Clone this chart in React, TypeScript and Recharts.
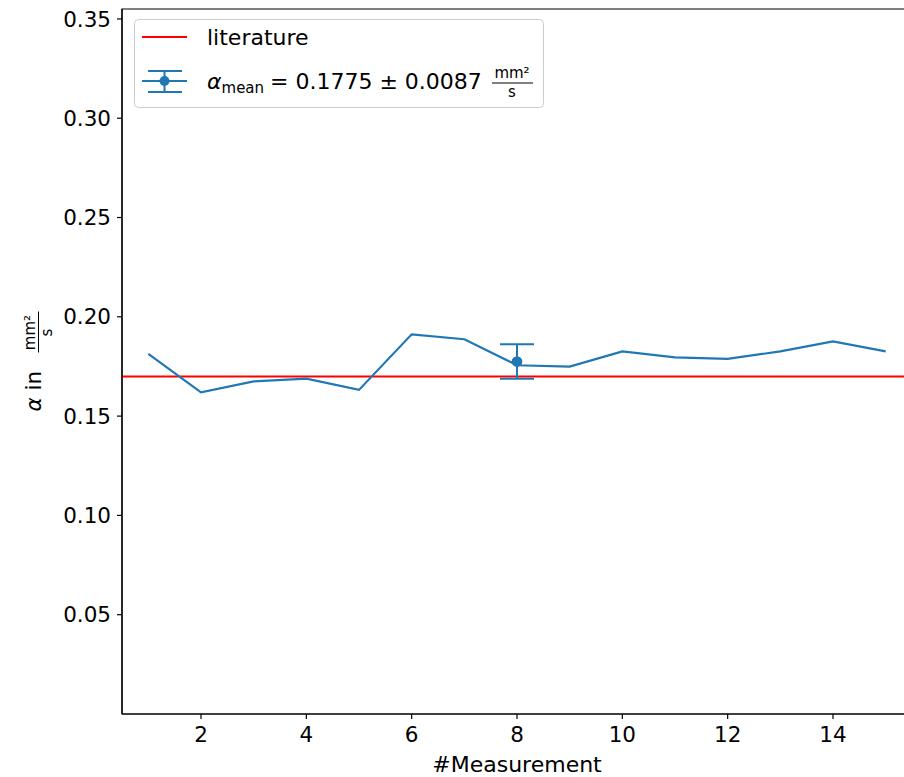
import {
  ComposedChart,
  Line,
  Scatter,
  ErrorBar,
  XAxis,
  YAxis,
  ZAxis,
  ReferenceLine,
  ReferenceArea,
  Legend,
} from "recharts";

const MEASUREMENTS = [1, 2, 3, 4, 5, 6, 7, 8, 9, 10, 11, 12, 13, 14, 15];
const ALPHA = [
  0.1813, 0.162, 0.1675, 0.1689, 0.1632, 0.1912, 0.1887, 0.1756, 0.1749, 0.1826,
  0.1796, 0.1788, 0.1826, 0.1876, 0.1826,
];
const LITERATURE = 0.17;
const MEAN_AT = 8;
const MEAN_VALUE = 0.1775;
const MEAN_ERROR = 0.0087;

const X_TICKS = [2, 4, 6, 8, 10, 12, 14];
const Y_TICKS = [0.05, 0.1, 0.15, 0.2, 0.25, 0.3, 0.35];

const BLUE = "#1f77b4";
const RED = "#ff0000";
const FONT = "DejaVu Sans";

const rows = MEASUREMENTS.map((n, i) => ({ n, alpha: ALPHA[i] }));
const meanRows = [{ n: MEAN_AT, alpha: MEAN_VALUE, err: MEAN_ERROR }];

const tickStyle = { fill: "#000", fontSize: 21.5, fontFamily: FONT };

function YLabel(props: any) {
  const vb = props.viewBox || { x: 52, y: 9, width: 70, height: 705 };
  const cx = vb.x - 11;
  const cy = vb.y + vb.height / 2;
  return (
    <g transform={`translate(${cx},${cy}) rotate(-90)`} fontFamily={FONT} fill="#000">
      <text x={-50} y={0} fontSize={21.5}>
        <tspan fontStyle="italic">α</tspan> in
      </text>
      <text x={29} y={-6} fontSize={15} textAnchor="middle">
        mm²
      </text>
      <line x1={9} x2={50} y1={-2.5} y2={-2.5} stroke="#000" strokeWidth={1} />
      <text x={29} y={11} fontSize={15} textAnchor="middle">
        s
      </text>
    </g>
  );
}

function LegendBox() {
  return (
    <svg width={411} height={90} style={{ display: "block" }} fontFamily={FONT}>
      <rect x={0.5} y={0.5} width={409} height={88} rx={4} fill="#fff" fillOpacity={0.8} stroke="#cccccc" />
      <line x1={8} x2={53} y1={18} y2={18} stroke={RED} strokeWidth={2} />
      <text x={73} y={26} fontSize={22} fill="#000">
        literature
      </text>

      <line x1={8} x2={53} y1={62} y2={62} stroke={BLUE} strokeWidth={2} />
      <line x1={30.5} x2={30.5} y1={52} y2={73} stroke={BLUE} strokeWidth={2} />
      <line x1={14} x2={48} y1={52} y2={52} stroke={BLUE} strokeWidth={2} />
      <line x1={14} x2={48} y1={73} y2={73} stroke={BLUE} strokeWidth={2} />
      <circle cx={30.5} cy={62} r={5} fill={BLUE} />

      <text x={73} y={70} fontSize={22} fill="#000">
        <tspan fontStyle="italic">α</tspan>
        <tspan fontSize={15} dy={4}>mean</tspan>
      </text>
      <text x={136} y={70} fontSize={22} fill="#000" xmlSpace="preserve">
        = 0.1775 ± 0.0087
      </text>
      <text x={378} y={59} fontSize={15} fill="#000" textAnchor="middle">
        mm²
      </text>
      <line x1={358} x2={399} y1={64} y2={64} stroke="#000" strokeWidth={1} />
      <text x={378} y={78} fontSize={15} fill="#000" textAnchor="middle">
        s
      </text>
    </svg>
  );
}

export default function App() {
  return (
    <div
      style={{
        position: "absolute",
        left: 0,
        top: 0,
        width: 904,
        height: 777,
        overflow: "hidden",
        background: "#fff",
      }}
    >
      <ComposedChart
        width={920}
        height={777}
        data={rows}
        margin={{ top: 9, right: 8, bottom: 0, left: 52 }}
      >
        <XAxis
          dataKey="n"
          type="number"
          domain={[0.5, 15.5]}
          ticks={X_TICKS}
          allowDataOverflow
          height={63}
          tick={tickStyle}
          tickSize={5}
          tickMargin={8}
          stroke="#000"
          strokeWidth={1.2}
          label={{
            value: "#Measurement",
            position: "insideBottom",
            offset: 5,
            fill: "#000",
            fontSize: 22,
            fontFamily: FONT,
          }}
        />
        <YAxis
          type="number"
          domain={[0, 0.355]}
          ticks={Y_TICKS}
          allowDataOverflow
          width={70}
          tick={tickStyle}
          tickSize={5}
          tickMargin={6}
          tickFormatter={(v: number) => v.toFixed(2)}
          stroke="#000"
          strokeWidth={1.2}
          label={{ content: (p: any) => <YLabel {...p} /> }}
        />
        <ZAxis range={[90, 90]} />
        <ReferenceArea
          x1={0.5}
          x2={15.5}
          y1={0}
          y2={0.355}
          fill="none"
          fillOpacity={0}
          stroke="#000"
          strokeWidth={1.2}
        />
        <ReferenceLine y={LITERATURE} stroke={RED} strokeWidth={2} />
        <Line
          type="linear"
          dataKey="alpha"
          stroke={BLUE}
          strokeWidth={2.2}
          dot={false}
          isAnimationActive={false}
        />
        <Scatter data={meanRows} dataKey="alpha" fill={BLUE} isAnimationActive={false}>
          <ErrorBar dataKey="err" direction="y" width={17} stroke={BLUE} strokeWidth={2} />
        </Scatter>
        <Legend
          layout="vertical"
          align="center"
          verticalAlign="middle"
          content={() => <LegendBox />}
          wrapperStyle={{ left: 134, top: 19, width: 411, height: 90 }}
        />
      </ComposedChart>
    </div>
  );
}
